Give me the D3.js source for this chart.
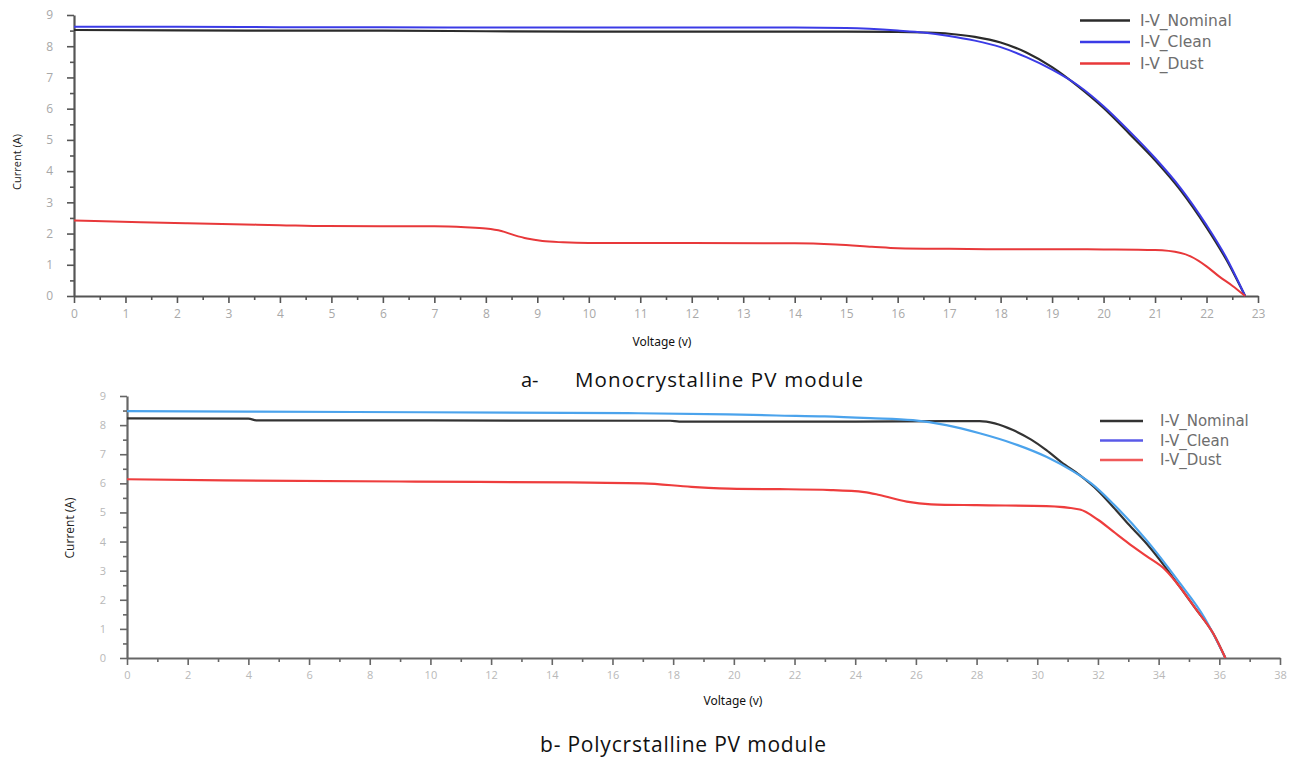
<!DOCTYPE html>
<html>
<head>
<meta charset="utf-8">
<script src="https://cdn.jsdelivr.net/npm/d3@7"></script>
<style>
html,body{margin:0;padding:0;background:#fff;}
svg{display:block;}
</style>
</head>
<body>
<svg id="chart" width="1306" height="764"></svg>
<script>
// ---------- DATA ----------
// (a) Monocrystalline PV module
const monoNominalV = [0, 2, 4, 6, 8, 10, 12, 14, 15, 16, 16.5, 17, 17.5, 18, 18.5, 19, 19.5, 20, 20.5, 21, 21.5, 22, 22.4, 22.75];
const monoNominalI = [8.52, 8.51, 8.5, 8.5, 8.48, 8.47, 8.47, 8.47, 8.47, 8.46, 8.44, 8.4, 8.3, 8.12, 7.8, 7.33, 6.72, 6.02, 5.2, 4.35, 3.38, 2.2, 1.12, 0];
const monoCleanV = [0, 2, 4, 6, 8, 10, 12, 14, 15, 16, 16.5, 17, 17.5, 18, 18.5, 19, 19.5, 20, 20.5, 21, 21.5, 22, 22.4, 22.75];
const monoCleanI = [8.62, 8.62, 8.61, 8.61, 8.6, 8.6, 8.6, 8.6, 8.58, 8.5, 8.44, 8.33, 8.18, 7.97, 7.65, 7.25, 6.75, 6.08, 5.28, 4.42, 3.45, 2.27, 1.18, 0];
const monoDustV = [0, 0.4, 1.3, 2.2, 3.1, 4, 4.9, 7, 7.6, 8, 8.3, 8.55, 8.8, 9.1, 9.5, 10, 12, 14, 14.8, 15.5, 16, 17, 18, 19, 20, 21, 21.5, 21.7, 22, 22.25, 22.5, 22.75];
const monoDustI = [2.42, 2.4, 2.36, 2.33, 2.3, 2.27, 2.24, 2.23, 2.2, 2.16, 2.08, 1.95, 1.84, 1.76, 1.72, 1.7, 1.7, 1.69, 1.65, 1.58, 1.53, 1.51, 1.5, 1.5, 1.49, 1.47, 1.38, 1.26, 0.95, 0.62, 0.33, 0];

// (b) Polycrystalline PV module
const polyNominalV = [0, 4, 4.3, 10, 17.9, 18.2, 24, 27, 28.1, 28.6, 29.2, 29.8, 30.3, 30.8, 31.4, 32, 32.5, 33, 33.6, 34.2, 34.7, 35.2, 35.8, 36.2];
const polyNominalI = [8.23, 8.22, 8.16, 8.16, 8.15, 8.12, 8.12, 8.14, 8.14, 8.06, 7.83, 7.5, 7.14, 6.72, 6.28, 5.75, 5.19, 4.6, 3.93, 3.15, 2.44, 1.72, 0.84, 0];
const polyCleanV = [0, 7.5, 16.5, 19.8, 21.4, 23, 24.5, 25.9, 27, 28.1, 29.2, 30.3, 31.2, 31.8, 32.5, 33.6, 34.7, 35.5, 36.2];
const polyCleanI = [8.48, 8.45, 8.41, 8.37, 8.33, 8.3, 8.24, 8.17, 8.0, 7.72, 7.37, 6.91, 6.4, 5.98, 5.3, 4.05, 2.57, 1.4, 0];
const polyDustV = [0, 3.2, 9.5, 14.6, 17, 18.6, 20.1, 21.5, 23.2, 24.3, 24.8, 25.7, 26.5, 28, 30.3, 31.4, 32, 32.5, 33, 33.6, 34.2, 34.7, 35.2, 35.8, 36.2];
const polyDustI = [6.14, 6.1, 6.06, 6.03, 6.0, 5.88, 5.81, 5.8, 5.77, 5.7, 5.6, 5.37, 5.28, 5.25, 5.22, 5.1, 4.75, 4.35, 3.95, 3.5, 3.05, 2.44, 1.72, 0.84, 0];

const seriesNames = ["I-V_Nominal", "I-V_Clean", "I-V_Dust"];
const monoXTicks = d3.range(0, 24, 1);
const polyXTicks = d3.range(0, 39, 2);
const yTicks = d3.range(0, 10, 1);
const xLabel = "Voltage (v)";
const yLabel = "Current (A)";
const captionA = ["a-", "Monocrystalline PV module"];
const captionB = "b- Polycrstalline PV module";

// ---------- DRAW ----------
const svg = d3.select("#chart");
const zip = (xs, ys) => xs.map((x, i) => [x, ys[i]]);

function panel(cfg) {
  const x = d3.scaleLinear().domain(cfg.xDomain).range(cfg.xRange);
  const y = d3.scaleLinear().domain([0, 9]).range(cfg.yRange);
  const g = svg.append("g");

  // minor ticks
  g.append("g").attr("transform", `translate(0,${cfg.yRange[0]})`)
    .call(d3.axisBottom(x).tickValues(cfg.xMinor).tickSize(4).tickFormat(""))
    .call(s => s.select(".domain").remove());
  g.append("g").attr("transform", `translate(${cfg.xRange[0]},0)`)
    .call(d3.axisLeft(y).tickValues(d3.range(0.5, 9, 1)).tickSize(4).tickFormat(""))
    .call(s => s.select(".domain").remove());

  g.append("g").attr("transform", `translate(0,${cfg.yRange[0]})`)
    .call(d3.axisBottom(x).tickValues(cfg.xTicks).tickSize(7).tickSizeOuter(0).tickPadding(6).tickFormat(d3.format("d")));
  g.append("g").attr("transform", `translate(${cfg.xRange[0]},0)`)
    .call(d3.axisLeft(y).tickValues(yTicks).tickSize(7).tickSizeOuter(0).tickPadding(cfg.yPad).tickFormat(d3.format("d")));

  g.selectAll(".tick line").attr("stroke", cfg.axisColor).attr("stroke-width", 1.6);
  g.selectAll(".domain").attr("stroke", cfg.axisColor).attr("stroke-width", 2.2);
  g.selectAll(".tick text").attr("fill", cfg.tickColor).style("font-family", "'Open Sans', sans-serif").style("font-size", cfg.tickFont + "px");

  const line = d3.line().x(d => x(d[0])).y(d => y(d[1])).curve(d3.curveMonotoneX);
  cfg.series.forEach(s => {
    g.append("path").datum(zip(s.v, s.i)).attr("d", line)
      .attr("fill", "none").attr("stroke", s.color).attr("stroke-width", s.width || 2)
      .attr("stroke-linejoin", "round");
  });

  // legend
  seriesNames.forEach((n, k) => {
    const ly = cfg.legend.y + k * cfg.legend.dy;
    g.append("line").attr("x1", cfg.legend.x1).attr("x2", cfg.legend.x2).attr("y1", ly).attr("y2", ly)
      .attr("stroke", cfg.legendColors[k]).attr("stroke-width", 2.6);
    g.append("text").attr("x", cfg.legend.tx).attr("y", ly).attr("dy", "0.35em")
      .attr("fill", "#6e6e6e").style("font-family", "'DejaVu Sans', sans-serif").style("font-size", cfg.legend.font + "px")
      .text(n);
  });

  // axis titles
  g.append("text").attr("transform", `translate(${cfg.yTitle[0]},${cfg.yTitle[1]}) rotate(-90)`)
    .attr("text-anchor", "middle").attr("dy", "0.35em")
    .style("font-family", "'Open Sans', sans-serif").style("font-size", cfg.yTitleFont + "px").attr("fill", "#222")
    .text(yLabel);
  g.append("text").attr("x", cfg.xTitle[0]).attr("y", cfg.xTitle[1]).attr("text-anchor", "middle").attr("dy", "0.35em")
    .style("font-family", "'Noto Sans', sans-serif").style("font-size", "12px").style("font-stretch", "condensed").attr("fill", "#111")
    .text(xLabel);
}

panel({
  xDomain: [0, 23], xRange: [74, 1258], yRange: [296, 15],
  xTicks: monoXTicks, xMinor: d3.range(0.5, 23, 1), yPad: 14,
  axisColor: "#555", tickColor: "#a8a8a8", tickFont: 12,
  series: [
    {v: monoNominalV, i: monoNominalI, color: "#2b2b2b", width: 2.2},
    {v: monoCleanV, i: monoCleanI, color: "#3b3be6", width: 2},
    {v: monoDustV, i: monoDustI, color: "#e8383a", width: 2}
  ],
  legendColors: ["#2b2b2b", "#3b3be6", "#e8383a"],
  legend: {x1: 1080, x2: 1130, tx: 1140, y: 20.5, dy: 21.5, font: 15.5},
  yTitle: [17, 162], yTitleFont: 11,
  xTitle: [662, 342]
});

panel({
  xDomain: [0, 38], xRange: [127, 1280], yRange: [658, 396],
  xTicks: polyXTicks, xMinor: d3.range(1, 38, 2), yPad: 14,
  axisColor: "#666", tickColor: "#b8b8b8", tickFont: 11,
  series: [
    {v: polyNominalV, i: polyNominalI, color: "#333333", width: 2.2},
    {v: polyCleanV, i: polyCleanI, color: "#4ba3ec", width: 2.2},
    {v: polyDustV, i: polyDustI, color: "#ee3d3d", width: 2.2}
  ],
  legendColors: ["#333333", "#5a5ae8", "#f05a5a"],
  legend: {x1: 1100, x2: 1143, tx: 1160, y: 421, dy: 19.5, font: 15},
  yTitle: [70, 528], yTitleFont: 12,
  xTitle: [733, 701]
});

// captions
const capStyle = s => s.style("font-family", "'Open Sans', sans-serif").attr("fill", "#111").attr("dy", "0.35em");
svg.append("text").attr("x", 521).attr("y", 380).style("font-size", "20px").call(capStyle).text(captionA[0]);
svg.append("text").attr("x", 575).attr("y", 380).style("font-size", "20.5px").call(capStyle)
  .attr("textLength", 288).attr("lengthAdjust", "spacing").text(captionA[1]);
svg.append("text").attr("x", 540).attr("y", 745).style("font-size", "21px").call(capStyle)
  .attr("textLength", 286).attr("lengthAdjust", "spacing").text(captionB);
</script>
</body>
</html>
